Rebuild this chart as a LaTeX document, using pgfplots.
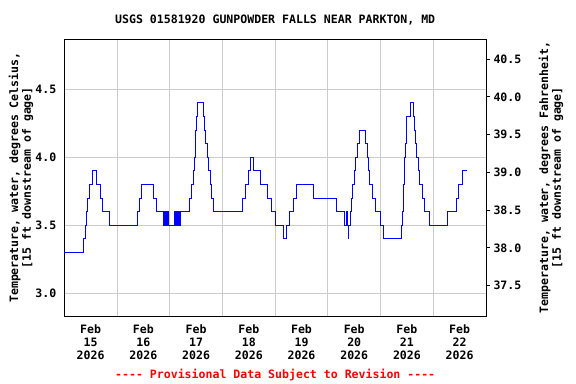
\documentclass[border=0pt]{standalone}
\usepackage{fontspec}
\setmonofont{DejaVu Sans Mono}
\usepackage{pgfplots}
\pgfplotsset{compat=1.18}
\definecolor{gridgray}{RGB}{204,204,204}
\newcommand\lf{\fontsize{11.6}{12.6}\selectfont\ttfamily\bfseries}
\newcommand\lfx{\fontsize{11.6}{12.9}\selectfont\ttfamily\bfseries}

\pgfplotstableread{
x y
0.000 3.3
0.357 3.4
0.395 3.5
0.414 3.6
0.433 3.7
0.471 3.8
0.528 3.9
0.604 3.8
0.680 3.7
0.731 3.6
0.851 3.5
1.382 3.6
1.420 3.7
1.464 3.8
1.686 3.7
1.743 3.6
1.888 3.5
1.898 3.6
1.909 3.5
1.919 3.6
1.930 3.5
1.940 3.6
1.950 3.5
1.961 3.6
1.970 3.5
2.092 3.6
2.102 3.5
2.113 3.6
2.124 3.5
2.134 3.6
2.145 3.5
2.155 3.6
2.166 3.5
2.176 3.6
2.186 3.5
2.195 3.6
2.369 3.7
2.413 3.8
2.445 3.9
2.464 4.0
2.483 4.1
2.495 4.2
2.508 4.3
2.527 4.4
2.634 4.3
2.653 4.2
2.679 4.1
2.717 4.0
2.736 3.9
2.767 3.8
2.799 3.7
2.831 3.6
3.374 3.7
3.431 3.8
3.495 3.9
3.526 4.0
3.590 3.9
3.716 3.8
3.849 3.7
3.935 3.6
4.013 3.5
4.152 3.4
4.216 3.5
4.266 3.6
4.355 3.7
4.399 3.8
4.722 3.7
5.158 3.6
5.310 3.5
5.348 3.6
5.365 3.5
5.384 3.4
5.392 3.5
5.424 3.6
5.449 3.7
5.468 3.8
5.500 3.9
5.532 4.0
5.563 4.1
5.595 4.2
5.709 4.1
5.746 4.0
5.765 3.9
5.791 3.8
5.841 3.7
5.905 3.6
5.993 3.5
6.050 3.4
6.398 3.5
6.417 3.6
6.430 3.7
6.442 3.8
6.450 3.9
6.455 4.0
6.474 4.1
6.485 4.2
6.493 4.3
6.563 4.4
6.620 4.3
6.639 4.2
6.658 4.1
6.689 4.0
6.727 3.9
6.746 3.8
6.790 3.7
6.841 3.6
6.923 3.5
7.264 3.6
7.435 3.7
7.479 3.8
7.555 3.9
7.631 3.9
}\tempdata

\begin{document}
\begin{tikzpicture}
\useasboundingbox (0,0) rectangle (576bp,384bp);
\begin{axis}[
  at={(64.3bp,68bp)}, anchor=south west, scale only axis,
  width=421.7bp, height=276.7bp,
  xmin=0, xmax=8, ymin=2.833, ymax=4.8676,
  axis line style={line width=1bp, black},
  xtick={0.5,1.5,2.5,3.5,4.5,5.5,6.5,7.5},
  xticklabels={{Feb\\15\\2026},{Feb\\16\\2026},{Feb\\17\\2026},{Feb\\18\\2026},{Feb\\19\\2026},{Feb\\20\\2026},{Feb\\21\\2026},{Feb\\22\\2026}},
  xticklabel style={align=center, font=\lfx, yshift=-5bp},
  minor xtick={1,2,3,4,5,6,7},
  xminorgrids,
  minor grid style={gridgray, line width=1bp},
  ytick={3.0,3.5,4.0,4.5},
  ymajorgrids,
  major grid style={gridgray, line width=1bp},
  major tick length=0pt, minor tick length=0pt,
  xtick pos=bottom, ytick pos=left,
  yticklabel style={font=\lf, xshift=-4.5bp, /pgf/number format/.cd, fixed, fixed zerofill, precision=1, assume math mode=true},
]
\addplot[const plot, color={rgb,255:red,0;green,0;blue,255}, line width=1bp] table[x=x,y=y] {\tempdata};
\end{axis}
\begin{axis}[
  at={(64.3bp,68bp)}, anchor=south west, scale only axis,
  width=421.7bp, height=276.7bp,
  xmin=0, xmax=8, ymin=37.0994, ymax=40.7617,
  axis x line=none, axis y line*=right,
  axis line style={line width=1bp, black, -},
  ytick={37.5,38.0,38.5,39.0,39.5,40.0,40.5},
  tick align=outside, major tick length=4bp,
  tick style={black, line width=1bp},
  yticklabel style={font=\lf, /pgf/number format/.cd, fixed, fixed zerofill, precision=1, assume math mode=true},
]
\end{axis}
\node[font=\lf] at (275.2bp,364bp) {USGS 01581920 GUNPOWDER FALLS NEAR PARKTON, MD};
\node[font=\lf, rotate=90, align=center] at (21bp,206.4bp) {Temperature, water, degrees Celsius,\\{}[15 ft downstream of gage]};
\node[font=\lf, rotate=90, align=center] at (551bp,206.4bp) {Temperature, water, degrees Fahrenheit,\\{}[15 ft downstream of gage]};
\node[font=\lf, text=red] at (275.2bp,9bp) {---- Provisional Data Subject to Revision ----};
\end{tikzpicture}
\end{document}
